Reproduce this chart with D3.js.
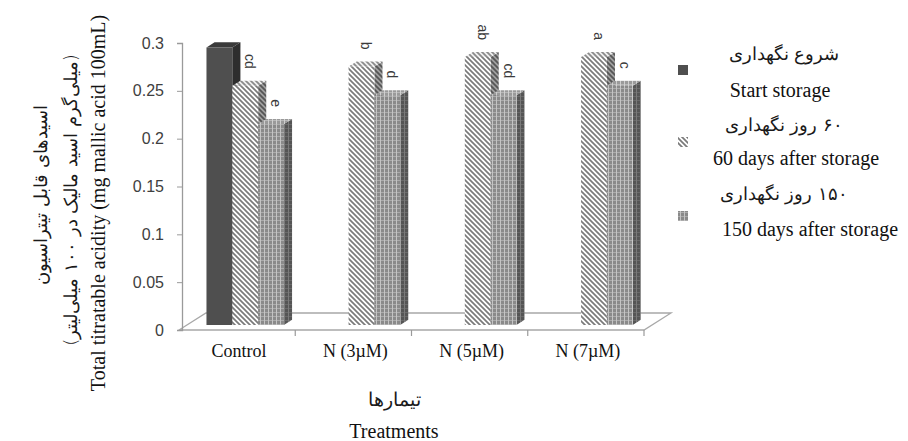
<!DOCTYPE html>
<html>
<head>
<meta charset="utf-8">
<script src="https://cdn.jsdelivr.net/npm/d3@7"></script>
<style>
  html, body { margin: 0; padding: 0; background: #ffffff; }
  svg { display: block; }
  .serif { font-family: "Liberation Serif", "Times New Roman", serif; fill: #111; }
  .fa { font-family: "DejaVu Sans", sans-serif; font-weight: 200; fill: #1a1a1a; }
  .tick-num { font-family: "Liberation Sans", Arial, sans-serif; fill: #404040; }
</style>
</head>
<body>
<script>
// Treatments on the x axis
const categories = ["Control", "N (3µM)", "N (5µM)", "N (7µM)"];

// Titratable acidity (mg malic acid / 100 mL) per storage time
const startStorage = [0.29, null, null, null];
const days60 = [0.25, 0.27, 0.28, 0.28];
const days150 = [0.21, 0.24, 0.24, 0.25];

// Duncan grouping letters shown above the bars
const letters60 = ["cd", "b", "ab", "a"];
const letters150 = ["e", "d", "cd", "c"];

// Value axis ticks
const yTicks = [0, 0.05, 0.1, 0.15, 0.2, 0.25, 0.3];

// Series keys and legend captions (Persian / English)
const seriesKeys = ["start", "d60", "d150"];
const legendFa = ["شروع نگهداری", "۶۰ روز نگهداری", "۱۵۰ روز نگهداری"];
const legendEn = ["Start storage", "60 days after storage", "150 days after storage"];

const W = 908, H = 441;
const svg = d3.select("body").append("svg").attr("width", W).attr("height", H);
const defs = svg.append("defs");

// ---- fill patterns -------------------------------------------------------
function hatch(id, bg, fg) {
  const p = defs.append("pattern").attr("id", id)
    .attr("patternUnits", "userSpaceOnUse").attr("width", 5).attr("height", 5);
  p.append("rect").attr("width", 5).attr("height", 5).attr("fill", bg);
  p.append("path").attr("d", "M-1,-1L6,6M-1,4L1,6M4,-1L6,1")
    .attr("stroke", fg).attr("stroke-width", 1.7);
}
function grid(id, bg, fg) {
  const p = defs.append("pattern").attr("id", id)
    .attr("patternUnits", "userSpaceOnUse").attr("width", 4).attr("height", 4);
  p.append("rect").attr("width", 4).attr("height", 4).attr("fill", bg);
  p.append("path").attr("d", "M0.5,0V4").attr("stroke", fg).attr("stroke-width", 1);
  p.append("path").attr("d", "M0,0.5H4").attr("stroke", fg).attr("stroke-width", 0.8).attr("opacity", 0.7);
}
hatch("hatchFront", "#ffffff", "#7a7a7a");
hatch("hatchTop", "#f0f0f0", "#8a8a8a");
hatch("hatchSide", "#a0a0a0", "#555555");
grid("gridFront", "#8a8a8a", "#c4c4c4");
grid("gridTop", "#9a9a9a", "#cfcfcf");
grid("gridSide", "#555555", "#7a7a7a");

const faces = {
  start: { front: "#4f4f4f", top: "#3a3a3a", side: "#2e2e2e" },
  d60:   { front: "url(#hatchFront)", top: "url(#hatchTop)", side: "url(#hatchSide)" },
  d150:  { front: "url(#gridFront)", top: "url(#gridTop)", side: "url(#gridSide)" }
};

// ---- scales and 3-D projection ------------------------------------------
const x0 = d3.scaleBand().domain(categories).range([179, 644]).paddingInner(0).paddingOuter(0);
const bw = x0.bandwidth();
const x1 = d3.scaleBand().domain(seriesKeys).range([bw / 6, bw * 5 / 6]);
const y = d3.scaleLinear().domain([0, 0.3]).range([330, 43]);

const DX = 27, DY = -17;          // floor depth vector
const zFront = 0.3, zBack = 0.6;  // column depth slice
const P = (sx, v, z) => [sx + z * DX, y(v) + z * DY];

// ---- floor ---------------------------------------------------------------
const [xl, xr] = x0.range();
const floorPts = [P(xl, 0, 0), P(xr, 0, 0), P(xr, 0, 1), P(xl, 0, 1)];
svg.append("path")
  .attr("d", d3.line()(floorPts) + "Z")
  .attr("fill", "none").attr("stroke", "#a8a8a8").attr("stroke-width", 1.3);

// ---- columns -------------------------------------------------------------
const seriesValues = { start: startStorage, d60: days60, d150: days150 };
const seriesLetters = { start: null, d60: letters60, d150: letters150 };
const gBars = svg.append("g");
const gLabels = svg.append("g");

categories.forEach((cat, ci) => {
  seriesKeys.forEach(key => {
    const v = seriesValues[key][ci];
    if (v == null) return;
    const a = x0(cat) + x1(key);
    const b = a + x1.bandwidth();
    const f = faces[key];
    const fTL = P(a, v, zFront), fTR = P(b, v, zFront);
    const fBL = P(a, 0, zFront), fBR = P(b, 0, zFront);
    const bTL = P(a, v, zBack), bTR = P(b, v, zBack), bBR = P(b, 0, zBack);
    const poly = pts => d3.line()(pts) + "Z";
    gBars.append("path").attr("d", poly([fTR, bTR, bBR, fBR])).attr("fill", f.side);
    gBars.append("path").attr("d", poly([fTL, fTR, bTR, bTL])).attr("fill", f.top);
    gBars.append("path").attr("d", poly([fTL, fTR, fBR, fBL])).attr("fill", f.front);

    const lab = seriesLetters[key] && seriesLetters[key][ci];
    if (lab) {
      const lx = (fTL[0] + fTR[0]) / 2 + 5;
      const ly = fTL[1] - 17;
      gLabels.append("text")
        .attr("transform", `translate(${lx},${ly}) rotate(90)`)
        .attr("text-anchor", "end")
        .attr("dominant-baseline", "central")
        .attr("font-family", "Liberation Sans, Arial, sans-serif")
        .attr("font-size", 14)
        .attr("fill", "#3a3a3a")
        .text(lab);
    }
  });
});

// ---- value axis ----------------------------------------------------------
const yAxis = svg.append("g")
  .attr("transform", `translate(${xl + 3},0)`)
  .call(d3.axisLeft(y).tickValues(yTicks).tickSize(5).tickPadding(13).tickFormat(d => String(d)));
yAxis.select(".domain").attr("stroke", "#9a9a9a").attr("stroke-width", 1.3);
yAxis.selectAll(".tick line").attr("stroke", "#9a9a9a");
yAxis.selectAll(".tick text").attr("class", "tick-num").attr("font-size", 16);

// ---- category axis -------------------------------------------------------
const gx = svg.append("g");
gx.selectAll("line.sep")
  .data(categories.slice(1).concat([null]))
  .join("line")
  .attr("x1", (d, i) => xl + (i + 1) * x0.step())
  .attr("x2", (d, i) => xl + (i + 1) * x0.step())
  .attr("y1", y(0)).attr("y2", y(0) + 6)
  .attr("stroke", "#9a9a9a").attr("stroke-width", 1.2);
gx.selectAll("text.cat")
  .data(categories)
  .join("text")
  .attr("class", "serif")
  .attr("x", d => x0(d) + bw / 2 + 2)
  .attr("y", 357)
  .attr("text-anchor", "middle")
  .attr("font-size", 18)
  .attr("fill", "#222")
  .text(d => d);

// ---- axis titles ---------------------------------------------------------
svg.append("text").attr("class", "fa")
  .attr("x", 394).attr("y", 406).attr("text-anchor", "middle")
  .attr("direction", "rtl").attr("font-size", 19)
  .text("تیمارها");
svg.append("text").attr("class", "serif")
  .attr("x", 394).attr("y", 438).attr("text-anchor", "middle")
  .attr("font-size", 20)
  .text("Treatments");

const yTitle = [
  { t: "اسیدهای قابل تیتراسیون", x: 40, y: 195, cls: "fa", size: 18, rtl: true },
  { t: "(میلی‌گرم اسید مالیک در ۱۰۰ میلی‌لیتر)", x: 70, y: 200, cls: "fa", size: 18, rtl: true },
  { t: "Total titratable acidity (mg mallic acid 100mL)", x: 98, y: 203, cls: "serif", size: 20, rtl: false }
];
yTitle.forEach(d => {
  const t = svg.append("text").attr("class", d.cls)
    .attr("transform", `translate(${d.x},${d.y}) rotate(-90)`)
    .attr("text-anchor", "middle")
    .attr("dominant-baseline", "central")
    .attr("font-size", d.size)
    .text(d.t);
  if (d.rtl) t.attr("direction", "rtl");
});

// ---- legend --------------------------------------------------------------
const legendRows = [
  { key: "start", sy: 65, faY: 60, enY: 97 },
  { key: "d60", sy: 137, faY: 131, enY: 165 },
  { key: "d150", sy: 211, faY: 200, enY: 236 }
];
const gLeg = svg.append("g");
legendRows.forEach((r, i) => {
  gLeg.append("rect").attr("x", 678).attr("y", r.sy).attr("width", 10).attr("height", 10)
    .attr("fill", faces[r.key].front);
  gLeg.append("text").attr("class", "fa")
    .attr("x", 784).attr("y", r.faY).attr("text-anchor", "middle")
    .attr("direction", "rtl").attr("font-size", 18)
    .text(legendFa[i]);
  gLeg.append("text").attr("class", "serif")
    .attr("x", [780, 796, 810][i]).attr("y", r.enY).attr("text-anchor", "middle")
    .attr("font-size", 20)
    .text(legendEn[i]);
});
</script>
</body>
</html>
